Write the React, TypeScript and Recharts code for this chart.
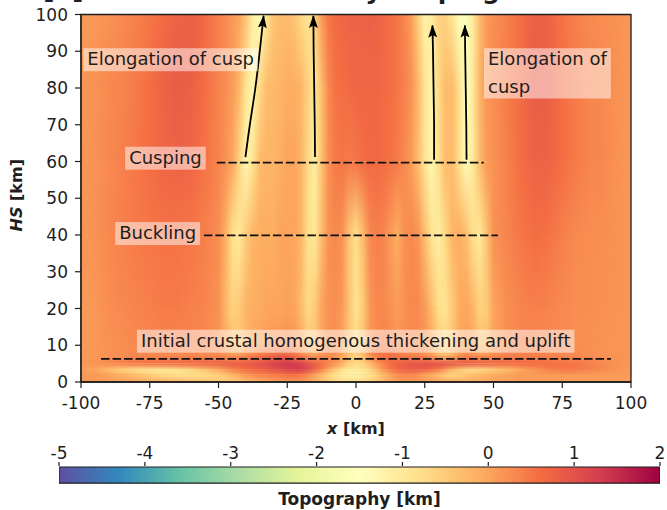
import React from 'react';
import { ComposedChart, XAxis, YAxis, ReferenceArea, ReferenceLine, ReferenceDot, Line, Bar } from 'recharts';

// x grid of the topography rows (km): 5 km steps outside +-50, 2.5 km inside
const X_KM = [
  -100, -95, -90, -85, -80, -75, -70, -65, -60, -55,
  -50, -47.5, -45, -42.5, -40, -37.5, -35, -32.5, -30, -27.5,
  -25, -22.5, -20, -17.5, -15, -12.5, -10, -7.5, -5, -2.5,
  0, 2.5, 5, 7.5, 10, 12.5, 15, 17.5, 20, 22.5,
  25, 27.5, 30, 32.5, 35, 37.5, 40, 42.5, 45, 47.5,
  50, 55, 60, 65, 70, 75, 80, 85, 90, 95, 100,
];

// HS level of each topography row (km), top to bottom
const HS_ROWS = [100, 80, 60, 40, 20, 10, 7, 5, 3.5, 2, 0];

// topography (km) read along each HS row
const TOPO_HS100 = [
  0.1, 0.15, 0.2, 0.3, 0.4, 0.5, 0.65, 0.75, 0.8, 0.65,
  0.4, 0.3, 0.15, 0, -0.4, -1.1, -1.4, -0.9, -0.4, -0.3,
  -0.3, -0.4, -0.7, -0.9, -0.6, 0.1, 0.5, 0.65, 0.7, 0.75,
  0.75, 0.75, 0.8, 0.75, 0.7, 0.6, 0.5, 0.35, 0.1, -0.5,
  -1.2, -1.0, -0.6, -0.6, -0.9, -1.6, -1.7, -1.0, -0.3, 0.1,
  0.25, 0.4, 0.6, 0.8, 0.75, 0.55, 0.4, 0.3, 0.25, 0.2, 0.15,
];
const TOPO_HS80 = [
  0.15, 0.2, 0.3, 0.35, 0.45, 0.6, 0.75, 0.85, 0.8, 0.6,
  0.35, 0.25, 0.1, -0.2, -0.9, -1.3, -0.7, -0.3, -0.25, -0.2,
  -0.1, -0.1, -0.2, -0.6, -1.0, -0.3, 0.3, 0.55, 0.6, 0.65,
  0.7, 0.7, 0.7, 0.7, 0.65, 0.6, 0.5, 0.4, 0.2, -0.2,
  -0.9, -1.3, -0.7, -0.3, -0.3, -0.8, -1.5, -1.0, -0.2, 0.15,
  0.25, 0.45, 0.65, 0.85, 0.8, 0.6, 0.45, 0.35, 0.3, 0.2, 0.15,
];
const TOPO_HS60 = [
  0.15, 0.2, 0.3, 0.4, 0.5, 0.6, 0.7, 0.75, 0.7, 0.55,
  0.35, 0.2, 0, -0.6, -1.3, -0.9, -0.3, -0.2, -0.2, -0.1,
  0, 0, -0.2, -0.7, -1.1, -0.4, 0.25, 0.45, 0.5, 0.45,
  0.5, 0.6, 0.65, 0.65, 0.6, 0.55, 0.45, 0.3, 0.1, -0.3,
  -0.9, -1.3, -0.8, -0.3, -0.3, -0.8, -1.4, -1.0, -0.3, 0.1,
  0.2, 0.4, 0.6, 0.75, 0.75, 0.6, 0.45, 0.35, 0.3, 0.2, 0.15,
];
const TOPO_HS40 = [
  0.15, 0.2, 0.3, 0.4, 0.45, 0.5, 0.55, 0.55, 0.5, 0.4,
  0.25, -0.1, -0.8, -1.0, -0.5, -0.2, -0.1, -0.1, -0.1, 0,
  0, 0, -0.2, -0.8, -1.0, -0.3, 0.2, 0.3, 0.2, -0.4,
  -0.8, -0.3, 0.3, 0.4, 0.35, 0.1, -0.1, 0.2, 0.3, 0.2,
  -0.3, -0.9, -1.1, -0.7, -0.2, -0.1, -0.3, -0.8, -1.0, -0.4,
  0.2, 0.35, 0.5, 0.6, 0.55, 0.4, 0.3, 0.25, 0.25, 0.2, 0.15,
];
const TOPO_HS20 = [
  0.1, 0.15, 0.25, 0.3, 0.35, 0.4, 0.45, 0.45, 0.4, 0.35,
  0.2, -0.2, -0.6, -0.5, -0.2, -0.1, -0.1, 0, 0, 0,
  0.05, 0, -0.3, -0.7, -0.5, 0, 0.2, 0.25, 0.1, -0.4,
  -0.9, -0.5, 0.1, 0.3, 0.3, 0.2, 0.1, 0.2, 0.3, 0.3,
  0.1, -0.3, -0.8, -0.9, -0.5, -0.1, 0, -0.2, -0.6, -0.5,
  0, 0.25, 0.35, 0.4, 0.35, 0.3, 0.25, 0.25, 0.2, 0.2, 0.15,
];
const TOPO_HS10 = [
  0.1, 0.15, 0.2, 0.25, 0.3, 0.35, 0.35, 0.35, 0.35, 0.3,
  0.2, 0, -0.3, -0.4, -0.2, 0, 0.05, 0.1, 0.15, 0.2,
  0.25, 0.2, 0, -0.4, -0.4, 0, 0.2, 0.2, 0, -0.4,
  -0.7, -0.4, 0.1, 0.3, 0.35, 0.3, 0.2, 0.25, 0.3, 0.3,
  0.2, 0, -0.4, -0.6, -0.4, 0, 0.1, 0, -0.3, -0.3,
  0.05, 0.25, 0.35, 0.35, 0.3, 0.3, 0.25, 0.2, 0.2, 0.15, 0.15,
];
const TOPO_HS7 = [
  0.1, 0.15, 0.2, 0.25, 0.3, 0.3, 0.3, 0.3, 0.3, 0.3,
  0.3, 0.25, 0.2, 0.2, 0.3, 0.4, 0.5, 0.6, 0.7, 0.8,
  0.75, 0.6, 0.4, 0.2, 0.1, 0.2, 0.25, 0.2, 0, -0.4,
  -0.6, -0.3, 0.2, 0.5, 0.6, 0.6, 0.5, 0.4, 0.35, 0.3,
  0.25, 0.1, -0.2, -0.3, -0.1, 0.2, 0.3, 0.3, 0.2, 0.2,
  0.3, 0.35, 0.4, 0.4, 0.35, 0.3, 0.3, 0.25, 0.2, 0.2, 0.15,
];
const TOPO_HS5 = [
  0.1, 0.2, 0.3, 0.45, 0.55, 0.6, 0.65, 0.7, 0.75, 0.75,
  0.8, 0.8, 0.85, 0.85, 0.9, 0.95, 1.0, 1.1, 1.2, 1.3,
  1.35, 1.3, 1.2, 1.0, 0.8, 0.6, 0.4, 0.2, -0.1, -0.5,
  -0.7, -0.6, -0.3, 0.1, 0.4, 0.6, 0.75, 0.85, 0.9, 0.95,
  1.0, 1.0, 1.0, 1.0, 0.95, 0.9, 0.9, 0.85, 0.8, 0.8,
  0.75, 0.7, 0.7, 0.65, 0.6, 0.55, 0.5, 0.4, 0.3, 0.2, 0.15,
];
const TOPO_HS3_5 = [
  0.05, 0, -0.3, -0.6, -0.8, -0.9, -0.9, -0.8, -0.6, -0.3,
  0, 0.2, 0.4, 0.5, 0.6, 0.7, 0.8, 0.9, 1.0, 1.1,
  1.2, 1.3, 1.3, 1.1, 0.8, 0.4, 0, -0.4, -0.8, -1.0,
  -1.0, -0.9, -0.6, -0.2, 0.2, 0.5, 0.7, 0.8, 0.85, 0.85,
  0.8, 0.7, 0.5, 0.2, -0.1, -0.4, -0.6, -0.7, -0.7, -0.6,
  -0.5, -0.3, 0, 0.2, 0.4, 0.5, 0.5, 0.4, 0.3, 0.2, 0.1,
];
const TOPO_HS2 = [
  0.1, 0.1, 0, -0.2, -0.4, -0.6, -0.8, -0.9, -0.9, -0.8,
  -0.6, -0.4, -0.2, 0, 0.2, 0.3, 0.4, 0.4, 0.5, 0.5,
  0.6, 0.6, 0.5, 0.3, 0, -0.3, -0.6, -0.9, -1.1, -1.2,
  -1.2, -1.1, -0.9, -0.6, -0.3, 0, 0.2, 0.3, 0.3, 0.2,
  0, -0.2, -0.4, -0.6, -0.7, -0.6, -0.5, -0.4, -0.3, -0.2,
  -0.1, 0, 0.1, 0.1, 0.1, 0.1, 0.1, 0.1, 0.1, 0.1, 0.1,
];
const TOPO_HS0 = [
  0.15, 0.15, 0.1, 0.1, 0.05, 0, 0, -0.1, -0.2, -0.3,
  -0.4, -0.5, -0.5, -0.5, -0.4, -0.3, -0.2, -0.1, 0, 0.1,
  0.1, 0.1, 0.1, 0, -0.1, -0.3, -0.5, -0.6, -0.7, -0.7,
  -0.7, -0.6, -0.5, -0.4, -0.2, 0, 0.1, 0.1, 0.1, 0.1,
  0.1, 0.1, 0.05, 0, 0, 0, 0, 0, 0, 0,
  0.05, 0.05, 0.1, 0.1, 0.1, 0.1, 0.1, 0.1, 0.1, 0.1, 0.1,
];
const TOPO_ROWS = [
  TOPO_HS100, TOPO_HS80, TOPO_HS60, TOPO_HS40, TOPO_HS20, TOPO_HS10,
  TOPO_HS7, TOPO_HS5, TOPO_HS3_5, TOPO_HS2, TOPO_HS0,
];

const X_TICKS = [-100, -75, -50, -25, 0, 25, 50, 75, 100];
const HS_TICKS = [0, 10, 20, 30, 40, 50, 60, 70, 80, 90, 100];
const CBAR_TICKS = [-5, -4, -3, -2, -1, 0, 1, 2];
const CBAR_MIN = -5;
const CBAR_MAX = 2;
// Spectral_r
const SPECTRAL_R = [
  '#5e4fa2', '#3288bd', '#66c2a5', '#abdda4', '#e6f598', '#ffffbf',
  '#fee08b', '#fdae61', '#f46d43', '#d53e4f', '#9e0142',
];
const CBAR_DATA = [{ name: 'topography', range: [CBAR_MIN, CBAR_MAX] }];

// dashed stage lines: [x from, x to, HS]
const STAGE_INITIAL = [-92.7, 92.7, 6.3];
const STAGE_BUCKLING = [-55.3, 51.6, 39.9];
const STAGE_CUSPING = [-50.6, 46.5, 59.7];
const STAGE_LINES = [STAGE_INITIAL, STAGE_BUCKLING, STAGE_CUSPING];

// cusp elongation arrows (x km, HS km), tail to head
const ARROW_1 = [{ x: -40.2, y: 61.2 }, { x: -38.6, y: 70 }, { x: -36.6, y: 80 }, { x: -35.0, y: 90 }, { x: -33.6, y: 99.6 }];
const ARROW_2 = [{ x: -14.9, y: 61.2 }, { x: -15.0, y: 70 }, { x: -15.2, y: 80 }, { x: -15.4, y: 90 }, { x: -15.5, y: 99.6 }];
const ARROW_3 = [{ x: 28.4, y: 60.5 }, { x: 28.4, y: 70 }, { x: 28.2, y: 80 }, { x: 28.0, y: 90 }, { x: 27.8, y: 97 }];
const ARROW_4 = [{ x: 40.2, y: 60.5 }, { x: 40.1, y: 70 }, { x: 39.9, y: 80 }, { x: 39.7, y: 90 }, { x: 39.6, y: 97 }];
const ARROWS = [ARROW_1, ARROW_2, ARROW_3, ARROW_4];

// text labels: lines, left x (km), first baseline HS (km)
const NOTES = [
  { lines: ['Elongation of cusp'], x: -97.7, hs: 86.2 },
  { lines: ['Elongation of', 'cusp'], x: 48, hs: 86.2 },
  { lines: ['Cusping'], x: -82.5, hs: 59.4 },
  { lines: ['Buckling'], x: -86.1, hs: 38.9 },
  { lines: ['Initial crustal homogenous thickening and uplift'], x: -78.2, hs: 9.6 },
];

const FONT = '"DejaVu Sans", Verdana, sans-serif';
const INK = '#1e1e1e';

const hexToRgb = (h: string) => [1, 3, 5].map(i => parseInt(h.slice(i, i + 2), 16));

function topoColor(v: number) {
  const t = Math.min(1, Math.max(0, (v - CBAR_MIN) / (CBAR_MAX - CBAR_MIN)));
  const pos = t * (SPECTRAL_R.length - 1);
  const i = Math.min(Math.floor(pos), SPECTRAL_R.length - 2);
  const f = pos - i;
  const a = hexToRgb(SPECTRAL_R[i]);
  const b = hexToRgb(SPECTRAL_R[i + 1]);
  const c = a.map((ac, k) => Math.round(ac + (b[k] - ac) * f));
  return `rgb(${c[0]},${c[1]},${c[2]})`;
}

let measureCtx: CanvasRenderingContext2D | null = null;
function textWidth(s: string, font: string) {
  if (!measureCtx) measureCtx = document.createElement('canvas').getContext('2d');
  if (!measureCtx) return s.length * 10;
  measureCtx.font = font;
  return measureCtx.measureText(s).width;
}

function Defs() {
  return (
    <svg width={0} height={0} style={{ position: 'absolute' }}>
      <defs>
        {TOPO_ROWS.map((row, r) => (
          <linearGradient key={r} id={`topo-${r}`} x1="0" y1="0" x2="1" y2="0">
            {row.map((v, k) => (
              <stop key={k} offset={(X_KM[k] - X_KM[0]) / (X_KM[X_KM.length - 1] - X_KM[0])} stopColor={topoColor(v)} />
            ))}
          </linearGradient>
        ))}
        <linearGradient id="fadeGrad" x1="0" y1="0" x2="0" y2="1">
          <stop offset="0" stopColor="#fff" stopOpacity={1} />
          <stop offset="1" stopColor="#fff" stopOpacity={0} />
        </linearGradient>
        <mask id="fade" maskContentUnits="objectBoundingBox">
          <rect x="0" y="0" width="1" height="1" fill="url(#fadeGrad)" />
        </mask>
        <linearGradient id="cmap" x1="0" y1="0" x2="1" y2="0">
          {SPECTRAL_R.map((c, i) => (
            <stop key={i} offset={i / (SPECTRAL_R.length - 1)} stopColor={c} />
          ))}
        </linearGradient>
        <marker id="arrowHead" markerUnits="userSpaceOnUse" markerWidth={13} markerHeight={10}
          viewBox="0 0 13 10" refX={12} refY={5} orient="auto">
          <path d="M0,0.5 L13,5 L0,9.5 L2.5,5 Z" fill="#000" />
        </marker>
      </defs>
    </svg>
  );
}

function NoteBox({ cx, cy, lines }: { cx: number; cy: number; lines: string[] }) {
  const font = `18px ${FONT}`;
  const w = Math.max(...lines.map(l => textWidth(l, font)));
  const lh = 27.3;
  return (
    <g>
      <rect x={cx - 4} y={cy - 17} width={w + 8} height={23 + (lines.length - 1) * lh}
        fill="#fff" fillOpacity={0.5} />
      {lines.map((l, i) => (
        <text key={i} x={cx} y={cy + i * lh} fontSize={18} fill={INK} fontFamily={FONT}>{l}</text>
      ))}
    </g>
  );
}

export default function App() {
  const bands = HS_ROWS.slice(0, -1).map((top, i) => ({ top, bottom: HS_ROWS[i + 1], a: i, b: i + 1 }));
  return (
    <div style={{ position: 'absolute', left: 0, top: 0, width: 667, height: 510, background: '#fff', overflow: 'hidden', fontFamily: FONT }}>
      <Defs />
      <svg width={667} height={20} style={{ position: 'absolute', left: 0, top: 0 }}>
        <text x={43} y={-1} fontSize={25} fontWeight="bold" fill={INK}>[b]</text>
        <text x={500} y={-1} fontSize={25} fontWeight="bold" fill={INK} textAnchor="end">Crustal evolution by cusping</text>
      </svg>
      <div style={{ position: 'absolute', left: 0, top: 0 }}>
        <ComposedChart width={667} height={440} data={X_KM.map(x => ({ x }))}
          margin={{ top: 14.5, right: 36, bottom: 0, left: 0 }}>
          <XAxis type="number" dataKey="x" domain={[-100, 100]} ticks={X_TICKS} allowDataOverflow
            height={58} tickSize={6} tickMargin={9}
            tick={{ fontSize: 17, fill: INK }} tickLine={{ stroke: INK, strokeWidth: 1.2 }}
            axisLine={{ stroke: INK, strokeWidth: 1.3 }}
            label={(p: any) => {
              const vb = p.viewBox;
              return (
                <text x={vb.x + vb.width / 2} y={vb.y + 52} textAnchor="middle" fontSize={16} fontWeight="bold" fill={INK}>
                  <tspan fontStyle="italic">x</tspan> [km]
                </text>
              );
            }} />
          <YAxis type="number" domain={[0, 100]} ticks={HS_TICKS} allowDataOverflow
            width={81} tickSize={6} tickMargin={7}
            tick={{ fontSize: 17, fill: INK }} tickLine={{ stroke: INK, strokeWidth: 1.2 }}
            axisLine={{ stroke: INK, strokeWidth: 1.3 }}
            label={(p: any) => {
              const vb = p.viewBox;
              const cx = vb.x + 21.5;
              const cy = vb.y + vb.height / 2 - 3;
              return (
                <text x={cx} y={cy} transform={`rotate(-90 ${cx} ${cy})`} textAnchor="middle" fontSize={16} fontWeight="bold" fill={INK}>
                  <tspan fontStyle="italic">HS</tspan> [km]
                </text>
              );
            }} />
          {bands.map(bd => (
            <ReferenceArea key={`band-${bd.a}`} x1={-100} x2={100} y1={bd.bottom} y2={bd.top}
              ifOverflow="visible"
              shape={(p: any) => (
                <g>
                  <rect x={p.x} y={p.y} width={p.width} height={p.height + 0.6} fill={`url(#topo-${bd.b})`} />
                  <rect x={p.x} y={p.y} width={p.width} height={p.height + 0.6} fill={`url(#topo-${bd.a})`} mask="url(#fade)" />
                </g>
              )} />
          ))}
          <ReferenceArea x1={-100} x2={100} y1={0} y2={100} fill="none" fillOpacity={0}
            stroke={INK} strokeWidth={1.3} ifOverflow="visible" />
          {STAGE_LINES.map((s, i) => (
            <ReferenceLine key={`stage-${i}`} segment={[{ x: s[0], y: s[2] }, { x: s[1], y: s[2] }]}
              stroke="#111" strokeWidth={1.8} strokeDasharray="8.5 3" ifOverflow="visible" />
          ))}
          {ARROWS.map((a, i) => (
            <Line key={`arrow-${i}`} data={a} dataKey="y" type="natural" stroke="#000" strokeWidth={1.8}
              dot={false} activeDot={false} isAnimationActive={false} legendType="none"
              markerEnd="url(#arrowHead)" />
          ))}
          {NOTES.map((n, i) => (
            <ReferenceDot key={`note-${i}`} x={n.x} y={n.hs} r={0} ifOverflow="visible"
              shape={(p: any) => <NoteBox cx={p.cx} cy={p.cy} lines={n.lines} />} />
          ))}
        </ComposedChart>
      </div>
      <div style={{ position: 'absolute', left: 0, top: 430 }}>
        <ComposedChart layout="vertical" width={667} height={80} data={CBAR_DATA} barCategoryGap={0}
          margin={{ top: 0, right: 7, bottom: 26, left: 59 }}>
          <XAxis type="number" domain={[CBAR_MIN, CBAR_MAX]} ticks={CBAR_TICKS} allowDataOverflow
            orientation="top" height={36} tickSize={4} tickMargin={3} axisLine={false}
            tick={{ fontSize: 17, fill: INK }} tickLine={{ stroke: INK, strokeWidth: 1.2 }} />
          <YAxis type="category" dataKey="name" hide />
          <Bar dataKey="range" fill="url(#cmap)" stroke={INK} strokeWidth={1.2} barSize={18}
            isAnimationActive={false}
            label={(p: any) => (
              <text x={p.x + p.width / 2} y={p.y + p.height + 22} textAnchor="middle" fontSize={17} fontWeight="bold" fill={INK}>
                Topography [km]
              </text>
            )} />
        </ComposedChart>
      </div>
    </div>
  );
}
